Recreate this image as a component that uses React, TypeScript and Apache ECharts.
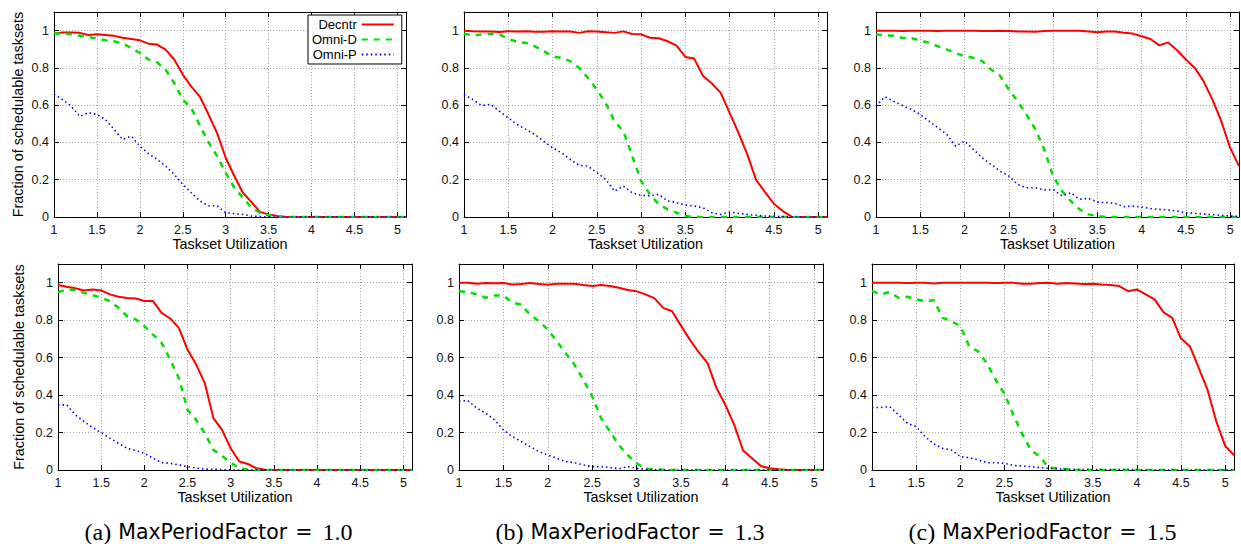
import React, { useEffect, useRef } from 'react';
import * as echarts from 'echarts';

// ---------- data ----------
const utilization = [
  1.0, 1.1, 1.2, 1.3, 1.4, 1.5, 1.6, 1.7, 1.8, 1.9,
  2.0, 2.1, 2.2, 2.3, 2.4, 2.5, 2.6, 2.7, 2.8, 2.9,
  3.0, 3.1, 3.2, 3.3, 3.4, 3.5, 3.6, 3.7, 3.8, 3.9,
  4.0, 4.1, 4.2, 4.3, 4.4, 4.5, 4.6, 4.7, 4.8, 4.9,
  5.0, 5.1,
];

const seriesNames = ['Decntr', 'Omni-D', 'Omni-P'];
const captionTags = ['(a)', '(b)', '(c)'];
const captionFactors = ['1.0', '1.3', '1.5'];
const xAxisTitle = 'Taskset Utilization';
const yAxisTitle = 'Fraction of schedulable tasksets';

// top row, column a
const topADecntr = [0.985, 0.99, 0.99, 0.988, 0.977, 0.98, 0.977, 0.972, 0.962, 0.955, 0.948, 0.93, 0.925, 0.898, 0.845, 0.764, 0.70, 0.645, 0.55, 0.45, 0.318, 0.22, 0.13, 0.08, 0.027, 0.014, 0.005, 0, 0, 0, 0, 0, 0, 0, 0, 0, 0, 0, 0, 0, 0, 0];
const topAOmniD = [0.985, 0.985, 0.98, 0.973, 0.966, 0.957, 0.948, 0.943, 0.93, 0.907, 0.88, 0.845, 0.83, 0.79, 0.72, 0.63, 0.585, 0.49, 0.40, 0.327, 0.237, 0.157, 0.104, 0.05, 0.023, 0.009, 0.003, 0, 0, 0, 0, 0, 0, 0, 0, 0, 0, 0, 0, 0, 0, 0];
const topAOmniP = [0.66, 0.63, 0.595, 0.54, 0.56, 0.55, 0.523, 0.47, 0.416, 0.434, 0.38, 0.34, 0.31, 0.273, 0.229, 0.175, 0.13, 0.086, 0.06, 0.06, 0.023, 0.018, 0.014, 0.005, 0.002, 0, 0, 0, 0, 0, 0, 0, 0, 0, 0, 0, 0, 0, 0, 0, 0, 0];

// top row, column b
const topBDecntr = [1.0, 0.997, 0.995, 0.995, 0.993, 0.997, 0.995, 0.997, 0.994, 0.994, 0.997, 0.995, 0.995, 0.988, 0.997, 0.995, 0.992, 0.988, 0.996, 0.982, 0.98, 0.962, 0.959, 0.943, 0.92, 0.859, 0.85, 0.757, 0.716, 0.666, 0.559, 0.452, 0.336, 0.198, 0.134, 0.071, 0.032, 0.002, 0, 0, 0, 0];
const topBOmniD = [0.985, 0.973, 0.98, 0.982, 0.98, 0.955, 0.94, 0.934, 0.916, 0.89, 0.862, 0.854, 0.836, 0.80, 0.746, 0.684, 0.612, 0.514, 0.46, 0.327, 0.193, 0.121, 0.068, 0.041, 0.023, 0.005, 0, 0, 0, 0, 0, 0, 0, 0, 0, 0, 0, 0, 0, 0, 0, 0];
const topBOmniP = [0.657, 0.63, 0.598, 0.604, 0.568, 0.532, 0.496, 0.47, 0.443, 0.407, 0.371, 0.345, 0.309, 0.277, 0.273, 0.238, 0.202, 0.139, 0.166, 0.13, 0.116, 0.113, 0.121, 0.086, 0.077, 0.064, 0.059, 0.05, 0.023, 0.014, 0.027, 0.02, 0.014, 0.009, 0.005, 0.004, 0.002, 0.001, 0, 0, 0, 0];

// top row, column c
const topCDecntr = [1.0, 1.0, 1.0, 0.998, 1.0, 1.0, 1.0, 0.998, 1.0, 1.0, 1.0, 1.0, 0.998, 0.998, 1.0, 0.998, 0.996, 0.996, 0.994, 0.998, 1.0, 1.0, 1.0, 1.0, 0.996, 0.991, 0.995, 0.995, 0.989, 0.984, 0.97, 0.955, 0.921, 0.937, 0.895, 0.845, 0.80, 0.729, 0.63, 0.514, 0.371, 0.273];
const topCOmniD = [0.979, 0.975, 0.973, 0.961, 0.959, 0.948, 0.934, 0.916, 0.898, 0.88, 0.862, 0.854, 0.836, 0.791, 0.759, 0.684, 0.621, 0.55, 0.47, 0.363, 0.22, 0.139, 0.086, 0.041, 0.014, 0.005, 0, 0, 0, 0, 0, 0, 0, 0, 0, 0, 0, 0, 0, 0, 0, 0];
const topCOmniP = [0.595, 0.645, 0.621, 0.598, 0.577, 0.55, 0.514, 0.479, 0.443, 0.38, 0.407, 0.363, 0.318, 0.282, 0.246, 0.22, 0.175, 0.157, 0.157, 0.145, 0.148, 0.113, 0.13, 0.095, 0.1, 0.08, 0.077, 0.073, 0.055, 0.059, 0.054, 0.045, 0.041, 0.038, 0.032, 0.023, 0.02, 0.016, 0.013, 0.009, 0.005, 0.002];

// bottom row, column a
const botADecntr = [0.988, 0.979, 0.97, 0.959, 0.964, 0.959, 0.938, 0.925, 0.918, 0.916, 0.902, 0.902, 0.839, 0.809, 0.759, 0.643, 0.563, 0.464, 0.277, 0.214, 0.116, 0.045, 0.032, 0.009, 0.002, 0, 0, 0, 0, 0, 0, 0, 0, 0, 0, 0, 0, 0, 0, 0, 0, 0];
const botAOmniD = [0.95, 0.964, 0.961, 0.946, 0.934, 0.92, 0.902, 0.866, 0.821, 0.804, 0.768, 0.723, 0.679, 0.589, 0.491, 0.321, 0.268, 0.196, 0.107, 0.075, 0.039, 0.009, 0.002, 0, 0, 0, 0, 0, 0, 0, 0, 0, 0, 0, 0, 0, 0, 0, 0, 0, 0, 0];
const botAOmniP = [0.348, 0.348, 0.295, 0.259, 0.227, 0.2, 0.17, 0.143, 0.116, 0.104, 0.089, 0.063, 0.039, 0.036, 0.027, 0.018, 0.011, 0.005, 0.004, 0.002, 0, 0, 0, 0, 0, 0, 0, 0, 0, 0, 0, 0, 0, 0, 0, 0, 0, 0, 0, 0, 0, 0];

// bottom row, column b
const botBDecntr = [1.0, 1.0, 0.995, 0.998, 0.997, 0.998, 0.991, 0.993, 0.998, 0.993, 0.989, 0.995, 0.995, 0.995, 0.988, 0.982, 0.988, 0.982, 0.973, 0.961, 0.954, 0.938, 0.918, 0.866, 0.848, 0.771, 0.696, 0.629, 0.571, 0.4375, 0.348, 0.241, 0.104, 0.0625, 0.021, 0.009, 0.004, 0, 0, 0, 0, 0];
const botBOmniD = [0.955, 0.95, 0.938, 0.92, 0.932, 0.932, 0.893, 0.884, 0.83, 0.795, 0.75, 0.688, 0.625, 0.5625, 0.482, 0.393, 0.277, 0.205, 0.134, 0.08, 0.036, 0.007, 0.004, 0.002, 0, 0, 0, 0, 0, 0, 0, 0, 0, 0, 0, 0, 0, 0, 0, 0, 0, 0];
const botBOmniP = [0.366, 0.371, 0.33, 0.304, 0.268, 0.214, 0.179, 0.152, 0.125, 0.098, 0.08, 0.0625, 0.045, 0.039, 0.027, 0.018, 0.018, 0.014, 0.007, 0.018, 0.009, 0.004, 0.002, 0, 0, 0, 0, 0, 0, 0, 0, 0, 0, 0, 0, 0, 0, 0, 0, 0, 0, 0];

// bottom row, column c
const botCDecntr = [1.0, 1.0, 1.0, 1.0, 0.998, 1.0, 1.0, 0.996, 1.0, 1.0, 1.0, 1.0, 1.0, 1.0, 0.998, 1.0, 1.0, 0.995, 0.995, 0.998, 1.0, 0.995, 0.998, 0.996, 0.993, 0.995, 0.991, 0.988, 0.982, 0.955, 0.964, 0.938, 0.911, 0.843, 0.8125, 0.702, 0.661, 0.545, 0.429, 0.259, 0.129, 0.079];
const botCOmniD = [0.955, 0.938, 0.95, 0.92, 0.925, 0.911, 0.902, 0.907, 0.8125, 0.795, 0.768, 0.661, 0.634, 0.571, 0.482, 0.407, 0.295, 0.193, 0.107, 0.071, 0.014, 0.007, 0.004, 0, 0, 0, 0, 0, 0, 0, 0, 0, 0, 0, 0, 0, 0, 0, 0, 0, 0, 0];
const botCOmniP = [0.334, 0.334, 0.339, 0.295, 0.25, 0.232, 0.179, 0.139, 0.116, 0.107, 0.071, 0.066, 0.054, 0.039, 0.039, 0.036, 0.025, 0.021, 0.018, 0.0125, 0.009, 0.007, 0.004, 0.003, 0.003, 0.003, 0.003, 0.003, 0.003, 0.003, 0.003, 0, 0, 0, 0, 0, 0, 0, 0, 0, 0, 0];

const panelData = [
  [topADecntr, topAOmniD, topAOmniP],
  [topBDecntr, topBOmniD, topBOmniP],
  [topCDecntr, topCOmniD, topCOmniP],
  [botADecntr, botAOmniD, botAOmniP],
  [botBDecntr, botBOmniD, botBOmniP],
  [botCDecntr, botCOmniD, botCOmniP],
];

// ---------- layout / style ----------
const SANS = "'Liberation Sans', Arial, Helvetica, sans-serif";
const SERIF = "'Liberation Serif', 'DejaVu Serif', serif";
const gridBoxes = [
  { left: 54, top: 12, width: 352, height: 205 },
  { left: 464, top: 12, width: 363, height: 205 },
  { left: 876, top: 12, width: 363, height: 205 },
  { left: 58, top: 264, width: 354, height: 206 },
  { left: 459, top: 264, width: 364, height: 206 },
  { left: 872, top: 264, width: 362, height: 206 },
];
const yNameGaps = [29, 0, 0, 32, 0, 0];
const captionCenters = [218.5, 630, 1042.5];

const lineStyles = [
  { color: '#ff0000', width: 2, type: 'solid' },
  { color: '#00e000', width: 2.5, type: [6, 6] },
  { color: '#0000ff', width: 1.6, type: [1.5, 3] },
];

function buildOption() {
  const xAxis: any[] = [];
  const yAxis: any[] = [];
  const series: any[] = [];
  const axisLine = { show: true, onZero: false, lineStyle: { color: '#000', width: 1 } };
  const axisTick = { show: true, inside: true, length: 5, lineStyle: { color: '#000', width: 1 } };
  const labelStyle = { fontSize: 12.5, color: '#111', fontFamily: SANS };
  const split = { show: true, lineStyle: { color: '#a8a8a8', width: 1, type: [1, 2] } };

  panelData.forEach((curves, i) => {
    const col = i % 3;
    xAxis.push({
      gridIndex: i, type: 'value', position: 'bottom', min: 1, max: 5.1, interval: 0.5,
      name: xAxisTitle, nameLocation: 'middle', nameGap: 20,
      nameTextStyle: { fontSize: 14.4, color: '#000', fontFamily: SANS },
      axisLine, axisTick,
      axisLabel: { ...labelStyle, margin: 6, showMaxLabel: false },
      splitLine: split,
    });
    xAxis.push({
      gridIndex: i, type: 'value', position: 'top', min: 1, max: 5.1, interval: 0.5,
      axisLine, axisTick, axisLabel: { show: false }, splitLine: { show: false },
    });
    yAxis.push({
      gridIndex: i, type: 'value', position: 'left', min: 0, max: 1.1, interval: 0.2,
      name: col === 0 ? yAxisTitle : '', nameLocation: 'middle', nameGap: yNameGaps[i],
      nameTextStyle: { fontSize: 14.4, color: '#000', fontFamily: SANS },
      axisLine, axisTick,
      axisLabel: { ...labelStyle, margin: 5, showMaxLabel: false },
      splitLine: split,
    });
    yAxis.push({
      gridIndex: i, type: 'value', position: 'right', min: 0, max: 1.1, interval: 0.2,
      axisLine, axisTick, axisLabel: { show: false }, splitLine: { show: false },
    });
    curves.forEach((vals, k) => {
      series.push({
        type: 'line',
        name: seriesNames[k],
        xAxisIndex: i * 2,
        yAxisIndex: i * 2,
        data: utilization.map((x, j) => [x, vals[j]]),
        symbol: 'none',
        showSymbol: false,
        lineStyle: lineStyles[k],
        itemStyle: { color: lineStyles[k].color },
        emphasis: { disabled: true },
        z: 2 + k,
      });
    });
  });

  const graphic = captionCenters.map((cx, c) => ({
    type: 'text',
    x: cx,
    y: 532,
    style: {
      text: `{p|${captionTags[c]}}{s|MaxPeriodFactor}{m|=}{n|${captionFactors[c]}}`,
      align: 'center',
      verticalAlign: 'middle',
      fill: '#000',
      rich: {
        p: { fontFamily: SERIF, fontSize: 24, padding: [0, 7, 0, 0], fill: '#000' },
        s: { fontFamily: "'DejaVu Sans', sans-serif", fontSize: 20.5, padding: [0, 8, 0, 0], fill: '#000' },
        m: { fontFamily: "'DejaVu Sans', sans-serif", fontSize: 20.5, padding: [0, 10, 0, 0], fill: '#000' },
        n: { fontFamily: SERIF, fontSize: 24, fill: '#000' },
      },
    },
  }));

  return {
    animation: false,
    backgroundColor: '#ffffff',
    grid: gridBoxes.map((g) => ({ ...g, containLabel: false })),
    xAxis,
    yAxis,
    series,
    legend: {
      data: seriesNames,
      orient: 'vertical',
      align: 'right',
      left: 308,
      top: 15,
      itemWidth: 32,
      itemHeight: 9,
      itemGap: 2,
      padding: [3, 7, 3, 4],
      borderColor: '#000',
      borderWidth: 1,
      borderRadius: 0,
      backgroundColor: '#fff',
      selectedMode: false,
      itemStyle: { opacity: 0 },
      textStyle: { fontSize: 13, color: '#000', fontFamily: SANS },
      z: 10,
    },
    graphic,
  };
}

export default function App() {
  const ref = useRef<HTMLDivElement>(null);
  useEffect(() => {
    if (!ref.current) return;
    const chart = echarts.init(ref.current, undefined, { renderer: 'svg' });
    chart.setOption(buildOption() as any);
    return () => chart.dispose();
  }, []);
  return (
    <div
      ref={ref}
      style={{ position: 'fixed', left: 0, top: 0, width: 1241, height: 544, background: '#fff' }}
    />
  );
}
